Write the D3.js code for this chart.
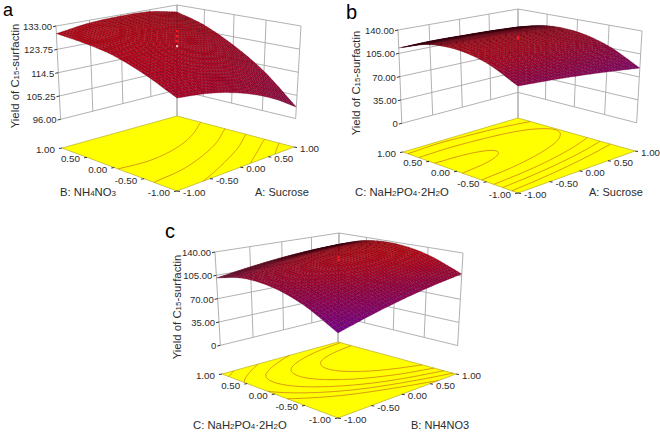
<!DOCTYPE html>
<html>
<head>
<meta charset="utf-8">
<script src="https://cdn.jsdelivr.net/npm/d3@7"></script>
<style>
  body { margin: 0; background: #fff; }
  text { font-family: "Liberation Sans", Arial, sans-serif; fill: #2b2b2b; }
</style>
</head>
<body>
<div id="chart"></div>
<script>
// coded factor levels, same on both floor axes
var levels = [-1, -0.5, 0, 0.5, 1];
var levelLabels = ["-1.00", "-0.50", "0.00", "0.50", "1.00"];

// response: one row per level of the left axis,
// one column per level of the right axis
var surfaceA = [
  [117.7, 116.0, 112.6, 107.5, 100.6],
  [123.3, 122.8, 120.7, 117.2, 112.1],
  [127.2, 127.7, 126.8, 124.3, 120.3],
  [129.0, 130.6, 130.7, 129.3, 126.4],
  [130.0, 131.9, 132.5, 132.2, 130.0]
];
var surfaceB = [
  [98.8, 96.5, 93.2, 88.8, 83.5],
  [120.1, 118.6, 116.0, 112.4, 107.9],
  [129.6, 128.8, 127.0, 124.2, 120.4],
  [127.3, 127.2, 126.2, 124.2, 121.1],
  [113.0, 114.3, 113.5, 112.3, 110.0]
];
var surfaceC = [
  [69.8, 82.5, 93.1, 101.7, 108.3],
  [94.9, 106.3, 115.8, 123.1, 128.7],
  [108.4, 118.7, 127.0, 133.3, 137.6],
  [110.5, 119.6, 126.8, 131.9, 135.1],
  [101.1, 109.1, 115.1, 119.1, 121.1]
];

// contour levels on the floor
var contoursA = [126.8, 121.7, 116.5, 111, 105.8];
var contoursB = [128.7, 122.5, 115.9, 109.7, 103];
var contoursC = [129, 122.5, 116, 110, 104];

// replicate centre runs
var centreA = [131, 129, 127, 125];
var centreB = [130, 128];
var centreC = [133, 129];

// z axis
var zTicksA = [96, 105.25, 114.5, 123.75, 133];
var zTickLabelsA = ["96.00", "105.25", "114.5", "123.75", "133.00"];
var zTicksB = [0, 35, 70, 105, 140];
var zTickLabelsB = ["0", "35.00", "70.00", "105.00", "140.00"];

var yTitle = "Yield of C_15-surfactin";

var panels = [
  {
    letter: "a", letterPos: [3, 16.4], letterSize: 18, values: surfaceA, contours: contoursA, centre: centreA,
    zTicks: zTicksA, zLabels: zTickLabelsA,
    floor: {F: [177, 191], R: [294, 147], B: [177, 116], L: [62, 148]},
    top: {F: [177, 55], R: [301, 26], B: [177, 5], L: [56, 26]},
    rightTitle: "A: Sucrose", rightPos: [255, 196],
    leftTitle: "B: NH_4NO_3", leftPos: [60, 196],
    yPos: [19, 76]
  },
  {
    letter: "b", letterPos: [346, 19], letterSize: 20, values: surfaceB, contours: contoursB, centre: centreB,
    zTicks: zTicksB, zLabels: zTickLabelsB,
    floor: {F: [518, 193], R: [635, 151], B: [518, 118], L: [403, 152]},
    top: {F: [518, 55], R: [642, 31], B: [518, 9], L: [398, 30]},
    rightTitle: "A: Sucrose", rightPos: [589, 196],
    leftTitle: "C: NaH_2PO_4·2H_2O", leftPos: [355, 196],
    yPos: [360, 83]
  },
  {
    letter: "c", letterPos: [165, 238], letterSize: 20, values: surfaceC, contours: contoursC, centre: centreC,
    zTicks: zTicksB, zLabels: zTickLabelsB,
    floor: {F: [338, 418], R: [456, 374], B: [338, 342], L: [222, 374]},
    top: {F: [338, 280], R: [463, 253], B: [339, 233], L: [215, 252]},
    rightTitle: "B: NH4NO3", rightPos: [411, 429],
    leftTitle: "C: NaH_2PO_4·2H_2O", leftPos: [193, 429],
    yPos: [181, 307]
  }
];

var width = 660, height = 432;
var wallStart = 0.235;   // share of the vertical posts below the walls
var meshCells = 40, contourCells = 120;

var svg = d3.select("#chart").append("svg")
    .attr("width", width)
    .attr("height", height)
    .style("display", "block");

var colour = d3.scaleLinear()
    .domain([70, 90, 105, 120, 135])
    .range(["#74008e", "#8a0062", "#980040", "#b40022", "#d00008"])
    .clamp(true);

var unit = d3.scaleLinear().domain([-1, 1]).range([0, 1]);

// how much a cell darkens as it turns edge-on to the viewer
var shade = d3.scaleLinear().domain([0, 0.6]).range([0, 1]).clamp(true);

// unit square -> four screen corners
function homography(q) {
  var dx1 = q.R[0] - q.B[0], dx2 = q.L[0] - q.B[0], sx = q.F[0] - q.R[0] + q.B[0] - q.L[0];
  var dy1 = q.R[1] - q.B[1], dy2 = q.L[1] - q.B[1], sy = q.F[1] - q.R[1] + q.B[1] - q.L[1];
  var det = dx1 * dy2 - dx2 * dy1;
  var g = (sx * dy2 - dx2 * sy) / det, h = (dx1 * sy - sx * dy1) / det;
  var a = q.R[0] - q.F[0] + g * q.R[0], b = q.L[0] - q.F[0] + h * q.L[0];
  var d = q.R[1] - q.F[1] + g * q.R[1], e = q.L[1] - q.F[1] + h * q.L[1];
  return function(s, r) {
    var w = g * s + h * r + 1;
    return [(a * s + b * r + q.F[0]) / w, (d * s + e * r + q.F[1]) / w];
  };
}

function catmull(p0, p1, p2, p3, t) {
  return 0.5 * (2 * p1 + (p2 - p0) * t + (2 * p0 - 5 * p1 + 4 * p2 - p3) * t * t +
    (3 * p1 - p0 - 3 * p2 + p3) * t * t * t);
}

// smooth reading of the value table between the factor levels
function sampler(table) {
  function at(row, i) {
    var n = row.length;
    if (i < 0) return 2 * row[0] - row[1];
    if (i >= n) return 2 * row[n - 1] - row[n - 2];
    return row[i];
  }
  function along(row, u) {
    var p = u * (row.length - 1), i = Math.min(Math.floor(p), row.length - 2);
    return catmull(at(row, i - 1), at(row, i), at(row, i + 1), at(row, i + 2), p - i);
  }
  return function(s, r) {
    return along(table.map(function(row) { return along(row, s); }), r);
  };
}

function addLabel(sel, str) {
  str.split(/_(\d+)/).forEach(function(part, i) {
    if (part === "") return;
    sel.append("tspan").attr("font-size", i % 2 ? 8 : null).text(part);
  });
  return sel;
}

panels.forEach(drawPanel);

function drawPanel(p) {
  var g = svg.append("g");
  var floorAt = homography(p.floor), topAt = homography(p.top);
  var z = d3.scaleLinear().domain(d3.extent(p.zTicks)).range([wallStart, 1]);
  var value = sampler(p.values);

  function project(s, r, t) {
    var a = floorAt(s, r), b = topAt(s, r);
    return [a[0] + (b[0] - a[0]) * t, a[1] + (b[1] - a[1]) * t];
  }
  var line = d3.line();

  // back walls sit on the edges s = 1 and r = 1
  var grid = [];
  levels.forEach(function(v) {
    var u = unit(v);
    var start = v === 1 ? 0 : wallStart;
    grid.push([project(u, 1, start), project(u, 1, 1)]);
    grid.push([project(1, u, start), project(1, u, 1)]);
  });
  p.zTicks.forEach(function(v) {
    var t = z(v);
    grid.push([project(0, 1, t), project(1, 1, t)]);
    grid.push([project(1, 1, t), project(1, 0, t)]);
  });
  g.append("g").selectAll("path").data(grid).join("path")
      .attr("d", line)
      .attr("fill", "none")
      .attr("stroke", "#a8a8a8")
      .attr("stroke-width", 0.9);

  // floor
  g.append("path")
      .attr("d", line([p.floor.F, p.floor.R, p.floor.B, p.floor.L]) + "Z")
      .attr("fill", "#ffff00")
      .attr("stroke", "#b8ac20")
      .attr("stroke-width", 0.7);

  // floor contours
  var n = contourCells + 1;
  var cellValues = [];
  for (var j = 0; j < n; j++) {
    for (var i = 0; i < n; i++) cellValues.push(value(i / contourCells, j / contourCells));
  }
  var contours = d3.contours().size([n, n]).thresholds(p.contours)(cellValues);
  var contourLine = d3.line()
      .defined(function(d) { return d.inside; })
      .x(function(d) { return d.xy[0]; })
      .y(function(d) { return d.xy[1]; });
  var rings = [];
  contours.forEach(function(c) {
    c.coordinates.forEach(function(poly) {
      poly.forEach(function(ring) {
        rings.push(ring.map(function(pt) {
          var s = (pt[0] - 0.5) / contourCells, r = (pt[1] - 0.5) / contourCells;
          return {
            inside: pt[0] > 0.01 && pt[0] < n - 0.01 && pt[1] > 0.01 && pt[1] < n - 0.01,
            xy: floorAt(s, r)
          };
        }));
      });
    });
  });
  g.append("g").selectAll("path").data(rings).join("path")
      .attr("d", contourLine)
      .attr("fill", "none")
      .attr("stroke", "#c8701a")
      .attr("stroke-width", 0.75);

  // surface mesh, painted back to front
  var cells = [];
  for (var a = meshCells - 1; a >= 0; a--) {
    for (var b = meshCells - 1; b >= 0; b--) cells.push([a, b]);
  }
  function corner(ci, cj) {
    var s = ci / meshCells, r = cj / meshCells;
    return project(s, r, z(value(s, r)));
  }
  function quad(d) {
    return [corner(d[0], d[1]), corner(d[0] + 1, d[1]),
      corner(d[0] + 1, d[1] + 1), corner(d[0], d[1] + 1)];
  }
  function flatQuad(d) {
    return [floorAt(d[0] / meshCells, d[1] / meshCells), floorAt((d[0] + 1) / meshCells, d[1] / meshCells),
      floorAt((d[0] + 1) / meshCells, (d[1] + 1) / meshCells), floorAt(d[0] / meshCells, (d[1] + 1) / meshCells)];
  }
  g.append("g").selectAll("path").data(cells).join("path")
      .attr("d", function(d) { return line(quad(d)) + "Z"; })
      .attr("fill", function(d) {
        var base = colour(value((d[0] + 0.5) / meshCells, (d[1] + 0.5) / meshCells));
        var ratio = Math.abs(d3.polygonArea(quad(d)) / d3.polygonArea(flatQuad(d)));
        return d3.interpolateRgb("#16000a", base)(shade(ratio));
      })
      .attr("stroke", "#3a0010")
      .attr("stroke-opacity", 0.6)
      .attr("stroke-width", 0.35);

  // centre runs
  g.append("g").selectAll("rect").data(p.centre).join("rect")
      .attr("x", function(d) { return project(0.5, 0.5, z(d))[0] - 1; })
      .attr("y", function(d) { return project(0.5, 0.5, z(d))[1] - 1; })
      .attr("width", 2.2)
      .attr("height", 2.2)
      .attr("fill", function(d) { return d > value(0.5, 0.5) ? "#ff1a1a" : "#ffc0c0"; });

  // z ticks on the left post
  var zt = g.append("g").selectAll("g").data(p.zTicks).join("g");
  zt.append("path")
      .attr("d", function(d) {
        var q = project(0, 1, z(d));
        return line([q, [q[0] - 3, q[1] + 0.7]]);
      })
      .attr("stroke", "#333");
  zt.append("text")
      .attr("x", function(d) { return project(0, 1, z(d))[0] - 4; })
      .attr("y", function(d) { return project(0, 1, z(d))[1] + 4; })
      .attr("text-anchor", "end")
      .attr("font-size", 9.5)
      .text(function(d, i) { return p.zLabels[i]; });

  // floor axis ticks
  var rightAxis = g.append("g").selectAll("g").data(levels).join("g");
  rightAxis.append("path")
      .attr("d", function(d) {
        var q = floorAt(unit(d), 0);
        return line([q, [q[0] + 3, q[1] + 0.5]]);
      })
      .attr("stroke", "#333");
  rightAxis.append("text")
      .attr("x", function(d) { return floorAt(unit(d), 0)[0] + 6; })
      .attr("y", function(d) { return floorAt(unit(d), 0)[1] + 5; })
      .attr("font-size", 9.8)
      .text(function(d, i) { return levelLabels[i]; });

  var leftAxis = g.append("g").selectAll("g").data(levels).join("g");
  leftAxis.append("path")
      .attr("d", function(d) {
        var q = floorAt(0, unit(d));
        return line([q, [q[0] - 3, q[1] + 0.5]]);
      })
      .attr("stroke", "#333");
  leftAxis.append("text")
      .attr("x", function(d) { return floorAt(0, unit(d))[0] - 7; })
      .attr("y", function(d) { return floorAt(0, unit(d))[1] + 5; })
      .attr("text-anchor", "end")
      .attr("font-size", 9.8)
      .text(function(d, i) { return levelLabels[i]; });

  // titles
  addLabel(g.append("text").attr("x", p.rightPos[0]).attr("y", p.rightPos[1]).attr("font-size", 11), p.rightTitle);
  addLabel(g.append("text").attr("x", p.leftPos[0]).attr("y", p.leftPos[1]).attr("font-size", 11.3), p.leftTitle);
  addLabel(g.append("text")
      .attr("transform", "translate(" + p.yPos[0] + "," + p.yPos[1] + ") rotate(-90)")
      .attr("text-anchor", "middle")
      .attr("font-size", 11.4), yTitle);
  g.append("text")
      .attr("x", p.letterPos[0])
      .attr("y", p.letterPos[1])
      .attr("font-size", p.letterSize)
      .style("fill", "#000")
      .text(p.letter);
}
</script>
</body>
</html>
